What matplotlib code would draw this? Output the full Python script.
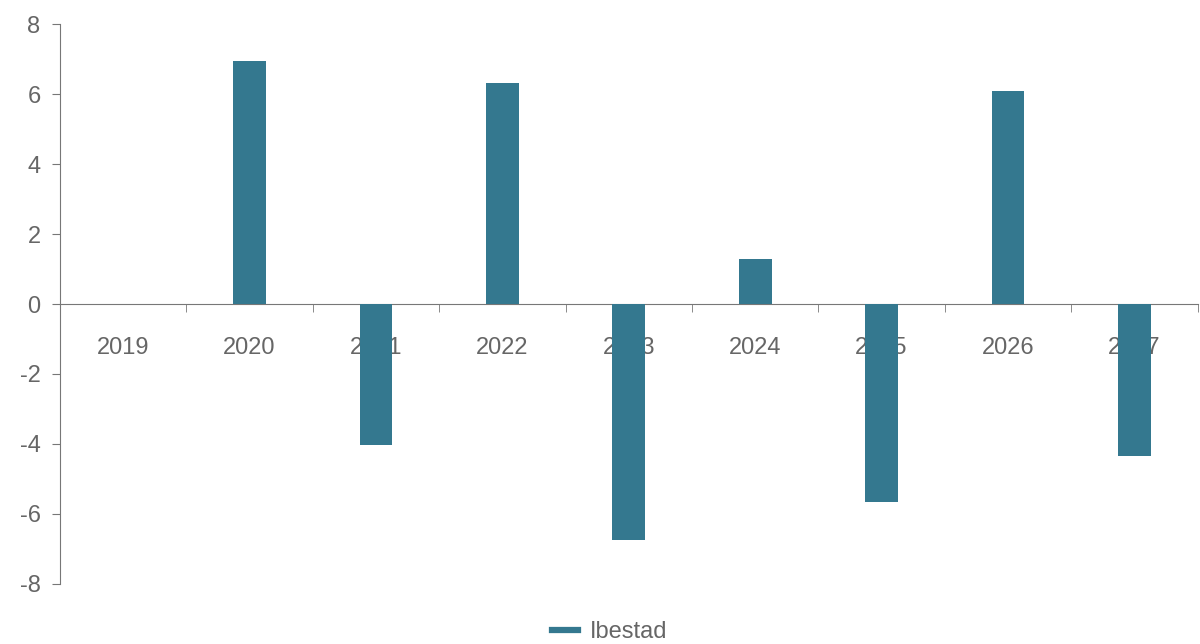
#!/usr/bin/env python3
# -*- coding: utf-8 -*-

import numpy as np
import matplotlib
matplotlib.use("Agg")
import matplotlib.pyplot as plt
from matplotlib.lines import Line2D

# データ
years = ["2019", "2020", "2021", "2022", "2023", "2024", "2025", "2026", "2027"]
values = [0.0, 6.95, -4.03, 6.31, -6.74, 1.29, -5.66, 6.09, -4.34]
series_name = "Ibestad"
yticks = [-8, -6, -4, -2, 0, 2, 4, 6, 8]

BAR_COLOR = "#34788f"
TEXT_COLOR = "#666666"
AXIS_COLOR = "#777777"

plt.rcParams['font.family'] = ['Liberation Sans', 'DejaVu Sans']

fig = plt.figure(figsize=(12, 6.44), dpi=100)
ax = fig.add_axes([0.05, 0.0932, 0.948, 0.8695])

x = np.arange(len(years))
ax.bar(x, values, width=0.26, color=BAR_COLOR, zorder=3)

ax.set_xlim(-0.5, len(years) - 0.5)
ax.set_ylim(-8, 8)
ax.set_yticks(yticks)
ax.set_yticklabels([str(t) for t in yticks])

# x軸: 0の位置、目盛りはカテゴリ境界
ax.spines['bottom'].set_position(('data', 0))
ax.spines['top'].set_visible(False)
ax.spines['right'].set_visible(False)
ax.spines['bottom'].set_color(AXIS_COLOR)
ax.spines['left'].set_color(AXIS_COLOR)

ax.set_xticks(x)
ax.set_xticklabels(years)
ax.set_xticks(np.arange(len(years)) + 0.5, minor=True)
ax.tick_params(axis='x', which='major', length=0, pad=24, labelsize=17, labelcolor=TEXT_COLOR)
ax.tick_params(axis='x', which='minor', length=6, direction='out', color=AXIS_COLOR)
ax.tick_params(axis='y', length=6, direction='out', color=AXIS_COLOR, pad=8,
               labelsize=17, labelcolor=TEXT_COLOR)

for lbl in ax.get_xticklabels():
    lbl.set_zorder(1)

handle = Line2D([0], [0], color=BAR_COLOR, linewidth=4.5)
fig.legend([handle], [series_name], loc='center', bbox_to_anchor=(0.508, 0.018),
           frameon=False, fontsize=17, labelcolor=TEXT_COLOR,
           handlelength=1.1, handletextpad=0.5)

fig.savefig("out.png", dpi=100)
